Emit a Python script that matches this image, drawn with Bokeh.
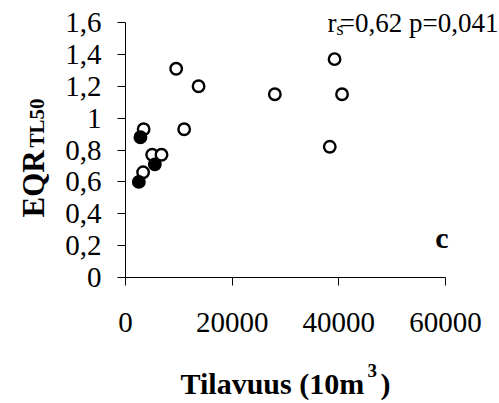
import math
from bokeh.plotting import figure
from bokeh.models import Label, FixedTicker, LinearAxis
from bokeh.embed import file_html
from bokeh.resources import INLINE

# data
open_x = [9500, 13700, 11000, 28000, 39200, 40600, 38300, 3400, 5000, 6750, 3300]
open_y = [1.31, 1.20, 0.93, 1.15, 1.37, 1.15, 0.82, 0.93, 0.77, 0.77, 0.66]
filled_x = [2800, 5500, 2500]
filled_y = [0.88, 0.71, 0.60]
x_ticks = [0, 20000, 40000, 60000]
y_ticks = [0, 0.2, 0.4, 0.6, 0.8, 1.0, 1.2, 1.4, 1.6]
y_tick_labels = ["0", "0,2", "0,4", "0,6", "0,8", "1", "1,2", "1,4", "1,6"]

FONT = "Liberation Serif"
W, H = 499, 403
# axes area in pixels: x 0..60000 -> 125..445, y 0..1.6 -> 277..22
X0, X1, Y0, Y1 = 125, 445, 277, 22
xs = 60000 / (X1 - X0)
ys = 1.6 / (Y0 - Y1)
x_range = (-X0 * xs, (W - X0) * xs)
y_range = (-(H - Y0) * ys, Y0 * ys)

p = figure(width=W, height=H, x_range=x_range, y_range=y_range,
           output_backend="svg", toolbar_location=None,
           x_axis_type=None, y_axis_type=None,
           min_border=0)
p.outline_line_color = None
p.grid.visible = False
p.background_fill_color = "white"
p.border_fill_color = "white"

xaxis = LinearAxis(fixed_location=0, bounds=(0, 60000),
                   ticker=FixedTicker(ticks=x_ticks),
                   major_label_overrides={t: str(t) for t in x_ticks},
                   major_label_standoff=27)
yaxis = LinearAxis(fixed_location=0, bounds=(0, 1.6),
                   ticker=FixedTicker(ticks=y_ticks),
                   major_label_overrides={t: l for t, l in zip(y_ticks, y_tick_labels)},
                   major_label_standoff=16)
for ax in (xaxis, yaxis):
    ax.axis_line_color = "black"
    ax.axis_line_width = 1
    ax.major_tick_line_color = "black"
    ax.major_tick_out = 8
    ax.major_tick_in = 0
    ax.minor_tick_line_color = None
    ax.major_label_text_font = FONT
    ax.major_label_text_font_size = "29px"
    ax.major_label_text_color = "black"
p.add_layout(xaxis, "below")
p.add_layout(yaxis, "left")

p.scatter(open_x, open_y, size=11.5, marker="circle", fill_color="white",
          line_color="black", line_width=2.4)
p.scatter(filled_x, filled_y, size=11.5, marker="circle", fill_color="black",
          line_color="black", line_width=2.4)

SHIFT = 10

def lab(text, px, py, size, bold=False, align="left", angle=0.0):
    if angle:
        px -= SHIFT - 1
    else:
        py -= SHIFT
    p.add_layout(Label(x=px, y=py, x_units="canvas", y_units="canvas",
                       text=text, text_font=FONT,
                       text_font_size=size, text_color="black",
                       text_font_style="bold" if bold else "normal",
                       text_align=align, text_baseline="alphabetic",
                       angle=angle))

# correlation annotation
lab("r", 327, 32, "27px")
lab("s", 336, 38, "18px")
lab("=0,62 p=0,041", 498, 32, "27px", align="right")

# panel letter
lab("c", 448, 247, "30px", bold=True, align="right")

# x axis title
lab("Tilavuus (10m", 180, 393, "30px", bold=True)
lab("3", 367, 380, "19px", bold=True)
lab(")", 380, 393, "30px", bold=True)

# y axis title (rotated)
lab("EQR", 42, 217, "31px", bold=True, angle=math.pi / 2)
lab("TL50", 45, 147, "21px", bold=True, angle=math.pi / 2)

open("out.html", "w").write(file_html(p, INLINE))
